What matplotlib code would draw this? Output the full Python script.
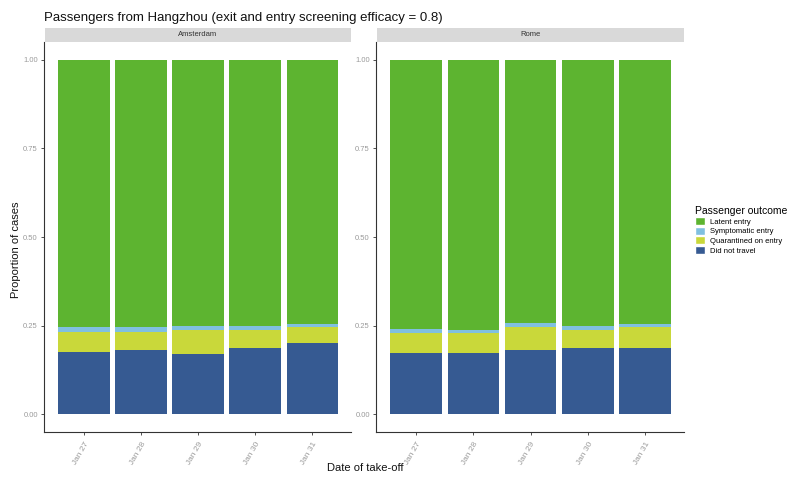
import matplotlib
matplotlib.use("Agg")
import matplotlib.pyplot as plt
from matplotlib.patches import Patch
import numpy as np

plt.rcParams["font.family"] = ["Liberation Sans", "DejaVu Sans"]

dates = ["Jan 27", "Jan 28", "Jan 29", "Jan 30", "Jan 31"]
cities = ["Amsterdam", "Rome"]

# Proportion of cases per outcome (stack order bottom -> top)
did_not_travel = {
    "Amsterdam": [0.176, 0.180, 0.171, 0.188, 0.200],
    "Rome":      [0.172, 0.174, 0.180, 0.188, 0.186],
}
quarantined = {
    "Amsterdam": [0.056, 0.053, 0.066, 0.051, 0.045],
    "Rome":      [0.057, 0.056, 0.066, 0.051, 0.059],
}
symptomatic = {
    "Amsterdam": [0.013, 0.012, 0.011, 0.011, 0.011],
    "Rome":      [0.011, 0.008, 0.011, 0.011, 0.009],
}

outcomes = ["Latent entry", "Symptomatic entry", "Quarantined on entry", "Did not travel"]
colors = {
    "Latent entry": "#5db430",
    "Symptomatic entry": "#80c0e0",
    "Quarantined on entry": "#c9d83a",
    "Did not travel": "#365a92",
}

W, H = 790, 479
fig = plt.figure(figsize=(W / 100, H / 100), dpi=100)
fig.patch.set_facecolor("white")

panel_x = [(44, 351), (376, 684)]
ax_top, ax_bot = 42, 432
strip_top = 28

tick_color = "#9a9a9a"

for (x0, x1), city in zip(panel_x, cities):
    ax = fig.add_axes([x0 / W, 1 - ax_bot / H, (x1 - x0) / W, (ax_bot - ax_top) / H])
    x = np.arange(len(dates))
    dnt = np.array(did_not_travel[city])
    q = np.array(quarantined[city])
    s = np.array(symptomatic[city])
    latent = 1 - dnt - q - s
    bottom = np.zeros(len(dates))
    for vals, name in [(dnt, "Did not travel"), (q, "Quarantined on entry"),
                       (s, "Symptomatic entry"), (latent, "Latent entry")]:
        ax.bar(x, vals, bottom=bottom, width=0.9, color=colors[name], linewidth=0)
        bottom = bottom + vals
    ax.set_xlim(-0.7, len(dates) - 0.32)
    ax.set_ylim(-0.05, 1.05)
    ax.set_xticks(x)
    ax.set_xticklabels(dates, rotation=60, ha="right", rotation_mode="anchor",
                       fontsize=6, color=tick_color)
    ax.set_yticks([0, 0.25, 0.5, 0.75, 1.0])
    ax.set_yticklabels(["0.00", "0.25", "0.50", "0.75", "1.00"], fontsize=5.5, color=tick_color)
    ax.tick_params(axis="both", length=2.5, width=0.6, color="#333333", pad=2)
    ax.tick_params(axis="x", pad=4)
    for side in ["top", "right"]:
        ax.spines[side].set_visible(False)
    for side in ["left", "bottom"]:
        ax.spines[side].set_linewidth(0.8)
        ax.spines[side].set_color("#333333")
    # facet strip
    sax = fig.add_axes([(x0 + 1) / W, 1 - ax_top / H, (x1 - x0 - 1) / W, (ax_top - strip_top) / H])
    sax.set_facecolor("#d9d9d9")
    sax.set_xticks([])
    sax.set_yticks([])
    for sp in sax.spines.values():
        sp.set_visible(False)
    sax.text(0.5, 0.5, city, ha="center", va="center", fontsize=5.5, color="#333333",
             transform=sax.transAxes)

fig.text(44 / W, 1 - 18 / H, "Passengers from Hangzhou (exit and entry screening efficacy = 0.8)",
         fontsize=9.5, ha="left", va="center", color="#111111")
fig.text(16 / W, 1 - 250 / H, "Proportion of cases", rotation=90, fontsize=8,
         ha="center", va="center", color="#111111")
fig.text(365 / W, 1 - 468 / H, "Date of take-off", fontsize=8, ha="center", va="center",
         color="#111111")

handles = [Patch(facecolor=colors[o], edgecolor="white", label=o) for o in outcomes]
leg = fig.legend(handles=handles, title="Passenger outcome", loc="upper left",
                 bbox_to_anchor=(692 / W, 1 - 203 / H), frameon=False, fontsize=5.5,
                 title_fontsize=7.5, handlelength=1.3, handleheight=1.2,
                 handletextpad=0.6, labelspacing=0.15, borderaxespad=0)
leg._legend_box.align = "left"

fig.savefig("out.png", dpi=100, facecolor="white")
